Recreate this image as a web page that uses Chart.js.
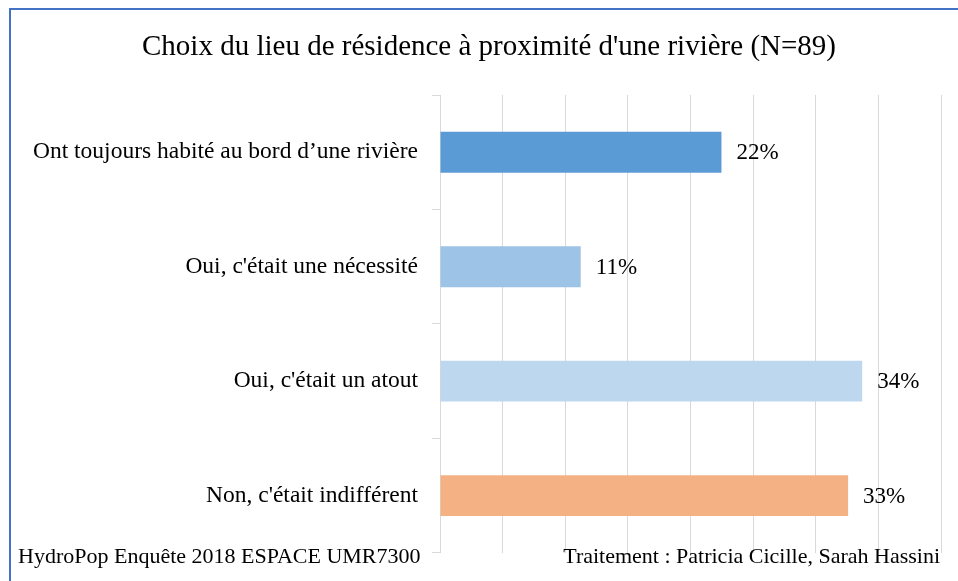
<!DOCTYPE html>
<html lang="fr">
<head>
<meta charset="utf-8">
<title>Choix du lieu de résidence</title>
<script src="https://cdn.jsdelivr.net/npm/chart.js@4/dist/chart.umd.min.js"></script>
<style>
  html, body { margin: 0; padding: 0; background: #fff; overflow: hidden; }
  #wrap { position: relative; width: 958px; height: 581px; }
  #frame {
    position: absolute; left: 9px; top: 8px; width: 1000px; height: 700px;
    border-left: 2px solid #4472C4; border-top: 2px solid #4472C4;
    box-sizing: border-box; pointer-events: none;
  }
  canvas { position: absolute; left: 0; top: 0; }
</style>
</head>
<body>
<div id="wrap">
  <canvas id="chart" width="958" height="581"></canvas>
  <div id="frame"></div>
</div>
<script>
// Survey answers (number of respondents out of N = 89)
const categories = [
  "Ont toujours habité au bord d\u2019une rivière",
  "Oui, c'était une nécessité",
  "Oui, c'était un atout",
  "Non, c'était indifférent"
];
const respondents = [20, 10, 30, 29];
const totalN = 89;
const barColors = ["#5B9BD5", "#9DC3E6", "#BDD7EE", "#F4B183"];
const titleText = "Choix du lieu de résidence à proximité d'une rivière (N=89)";
const sourceText = "HydroPop Enquête 2018 ESPACE UMR7300";
const creditText = "Traitement : Patricia Cicille, Sarah Hassini";

// Shares in percent
const shares = respondents.map(v => v / totalN * 100);

const SERIF = "'Liberation Serif', 'Times New Roman', serif";

// Percent labels just past the end of each bar
const valueLabels = {
  id: 'valueLabels',
  afterDatasetsDraw(chart) {
    const ctx = chart.ctx;
    const meta = chart.getDatasetMeta(0);
    ctx.save();
    ctx.font = "23px " + SERIF;
    ctx.fillStyle = "#000";
    ctx.textAlign = "left";
    ctx.textBaseline = "middle";
    meta.data.forEach((bar, i) => {
      const v = chart.data.datasets[0].data[i];
      ctx.fillText(Math.round(v) + "%", bar.x + 15, bar.y + 1);
    });
    ctx.restore();
  }
};

// Title above the plot, plus source and credit lines at the foot
const captions = {
  id: 'captions',
  afterDraw(chart) {
    const ctx = chart.ctx;
    ctx.save();
    ctx.fillStyle = "#000";
    ctx.textBaseline = "middle";

    ctx.font = "29px " + SERIF;
    ctx.textAlign = "center";
    ctx.fillText(titleText, 489, 47);

    ctx.font = "22px " + SERIF;
    ctx.textAlign = "left";
    ctx.fillText(sourceText, 18, 557);
    ctx.textAlign = "right";
    ctx.fillText(creditText, 940, 557);
    ctx.restore();
  }
};

new Chart(document.getElementById('chart'), {
  type: 'bar',
  data: {
    labels: categories,
    datasets: [{
      data: shares,
      backgroundColor: barColors,
      borderWidth: 0,
      barPercentage: 0.357,
      categoryPercentage: 1.0
    }]
  },
  options: {
    indexAxis: 'y',
    responsive: false,
    animation: false,
    devicePixelRatio: 1,
    layout: { padding: { left: 0, right: 17, top: 95, bottom: 26 } },
    plugins: {
      legend: { display: false },
      tooltip: { enabled: false },
      title: { display: false }
    },
    scales: {
      x: {
        min: 0, max: 40,
        ticks: { display: false, stepSize: 5 },
        grid: { color: "#D9D9D9", lineWidth: 1, drawTicks: false },
        border: { display: false },
        afterFit(scale) { scale.height = 0; }
      },
      y: {
        ticks: {
          color: "#000",
          padding: 14,
          font: { family: SERIF, size: 23.5 }
        },
        grid: {
          offset: true,
          drawOnChartArea: false,
          drawTicks: true,
          tickLength: 8,
          color: "#D9D9D9"
        },
        border: { display: true, color: "#D9D9D9", width: 1 },
        afterFit(scale) { scale.width = 440; }
      }
    }
  },
  plugins: [valueLabels, captions]
});
</script>
</body>
</html>
